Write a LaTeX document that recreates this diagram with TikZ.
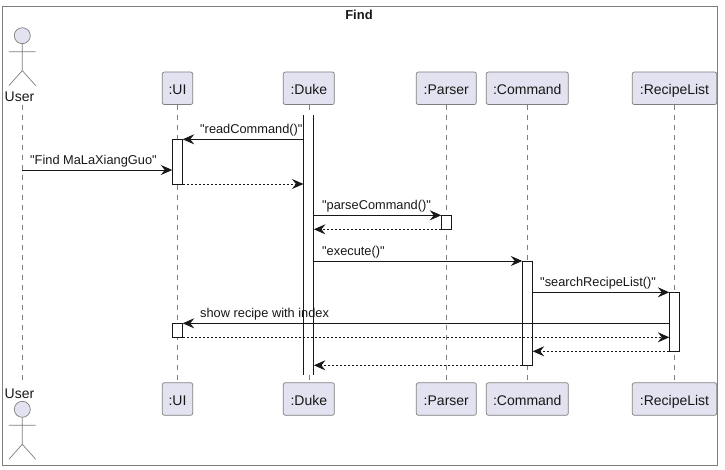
\documentclass[tikz,border=0pt]{standalone}
\usepackage{fontspec}
\setmainfont{Liberation Sans}[Ligatures=TeXOff]
\usetikzlibrary{arrows.meta}
\definecolor{partfill}{HTML}{E2E2F0}
\definecolor{edgegray}{HTML}{7F7F7F}
\definecolor{ink}{HTML}{181818}
\tikzset{
  part/.style={draw=edgegray,line width=0.7pt,fill=partfill,rounded corners=2pt,inner sep=0pt,
    minimum height=32.5pt,text height=12.6pt,text depth=0pt,font=\fontsize{14}{14}\selectfont,text=ink},
  bar/.style={draw=ink,line width=0.9pt,fill=white,inner sep=0pt,outer sep=0pt,minimum width=10.4pt},
  life/.style={draw=edgegray,line width=0.6pt,dash pattern=on 5pt off 5pt},
  msg/.style={draw=ink,line width=0.9pt,-{Stealth[length=11.5pt,width=10pt,inset=4pt]}},
  ret/.style={msg,dash pattern=on 2pt off 2pt},
  lbl/.style={anchor=base west,inner sep=0pt,font=\fontsize{12.8}{13}\selectfont,text=ink},
  head/.style={circle,draw=edgegray,line width=0.7pt,fill=partfill,inner sep=0pt,minimum size=16pt},
  limb/.style={draw=edgegray,line width=0.7pt},
  actlbl/.style={inner sep=0pt,font=\fontsize{14}{14}\selectfont,text=ink,anchor=base}
}
\begin{document}
\begin{tikzpicture}[x=1pt,y=-1pt]
\useasboundingbox (0,0) rectangle (725,470);
\fill[white] (0,0) rectangle (725,470);
\node[draw=edgegray,line width=0.8pt,inner sep=0pt,minimum width=715.2pt,minimum height=459.4pt,anchor=north west] (frame) at (1.5,6) {};
\node[inner sep=0pt,font=\bfseries\fontsize{13}{13}\selectfont,text=ink] (title) at (359,15) {Find};

% participants
\node[part,minimum width=30.4pt] (uiT) at (177.5,88.3) {:UI};
\node[part,minimum width=51pt] (dukeT) at (308.8,88.3) {:Duke};
\node[part,minimum width=60pt] (parserT) at (446.3,88.3) {:Parser};
\node[part,minimum width=82pt] (commandT) at (527.3,88.3) {:Command};
\node[part,minimum width=84.4pt] (recipeT) at (674.5,88.3) {:RecipeList};
\node[part,minimum width=30.4pt] (uiB) at (177.5,399) {:UI};
\node[part,minimum width=51pt] (dukeB) at (308.8,399) {:Duke};
\node[part,minimum width=60pt] (parserB) at (446.3,399) {:Parser};
\node[part,minimum width=82pt] (commandB) at (527.3,399) {:Command};
\node[part,minimum width=84.4pt] (recipeB) at (674.5,399) {:RecipeList};

% actors
\node[actlbl] (userT) at (19.5,102) {User};
\node[actlbl] (userB) at (19.5,398) {User};
\node[head] (headT) at (22.3,35.7) {};
\node[head] (headB) at (22.3,409.3) {};
\coordinate (neckT) at (22.3,43.7);
\coordinate (hipT) at (22.3,70.6);
\coordinate (neckB) at (22.3,417.3);
\coordinate (hipB) at (22.3,444.3);
\draw[limb] (headT) -- (hipT) -- ++(-13.4,15) (hipT) -- ++(13.4,15) (neckT) ++(-13.4,8) -- ++(26.8,0);
\draw[limb] (headB) -- (hipB) -- ++(-13.4,15) (hipB) -- ++(13.4,15) (neckB) ++(-13.4,8) -- ++(26.8,0);

% lifelines
\coordinate (userLT) at (22.3,105);
\coordinate (userLB) at (22.3,381);
\draw[life] (userLT) -- (userLB);
\draw[life] (uiT) -- (uiB);
\draw[life] (dukeT) -- (dukeB);
\draw[life] (parserT) -- (parserB);
\draw[life] (commandT) -- (commandB);
\draw[life] (recipeT) -- (recipeB);

% activations
\node[bar,draw=none,minimum height=259.4pt,anchor=north] (dukeA) at (308.7,115.3) {};
\draw[draw=ink,line width=0.9pt] (dukeA.north west) -- (dukeA.south west) (dukeA.north east) -- (dukeA.south east);
\node[bar,minimum height=44.7pt,anchor=north] (uiA) at (177.5,139.3) {};
\node[bar,minimum height=14pt,anchor=north] (uiC) at (177.5,323.3) {};
\node[bar,minimum height=14pt,anchor=north] (parserA) at (446.5,215.3) {};
\node[bar,minimum height=104.3pt,anchor=north] (commandA) at (527.5,261) {};
\node[bar,minimum height=59pt,anchor=north] (recipeA) at (674.5,292.3) {};

% message rows
\coordinate (m2) at (0,170);

\draw[msg] (dukeA.west |- uiA.north) -- (uiA.north east);
\draw[msg] (userLT |- m2) -- (uiA.west |- m2);
\draw[ret] (uiA.south east) -- (dukeA.west |- uiA.south);
\draw[msg] (dukeA.east |- parserA.north) -- (parserA.north west);
\draw[ret] (parserA.south west) -- (dukeA.east |- parserA.south);
\draw[msg] (dukeA.east |- commandA.north) -- (commandA.north west);
\draw[msg] (commandA.east |- recipeA.north) -- (recipeA.north west);
\draw[msg] (recipeA.west |- uiC.north) -- (uiC.north east);
\draw[ret] (uiC.south east) -- (recipeA.west |- uiC.south);
\draw[ret] (recipeA.south west) -- (commandA.east |- recipeA.south);
\draw[ret] (commandA.south west) -- (dukeA.east |- commandA.south);

% message labels
\node[lbl] (l1) at (200,133.7) {"readCommand()"};
\node[lbl] (l2) at (30,164.7) {"Find MaLaXiangGuo"};
\node[lbl] (l3) at (322,209.7) {"parseCommand()"};
\node[lbl] (l4) at (322,255.7) {"execute()"};
\node[lbl] (l5) at (540,286.7) {"searchRecipeList()"};
\node[lbl] (l6) at (200,317.7) {show recipe with index};
\end{tikzpicture}
\end{document}
